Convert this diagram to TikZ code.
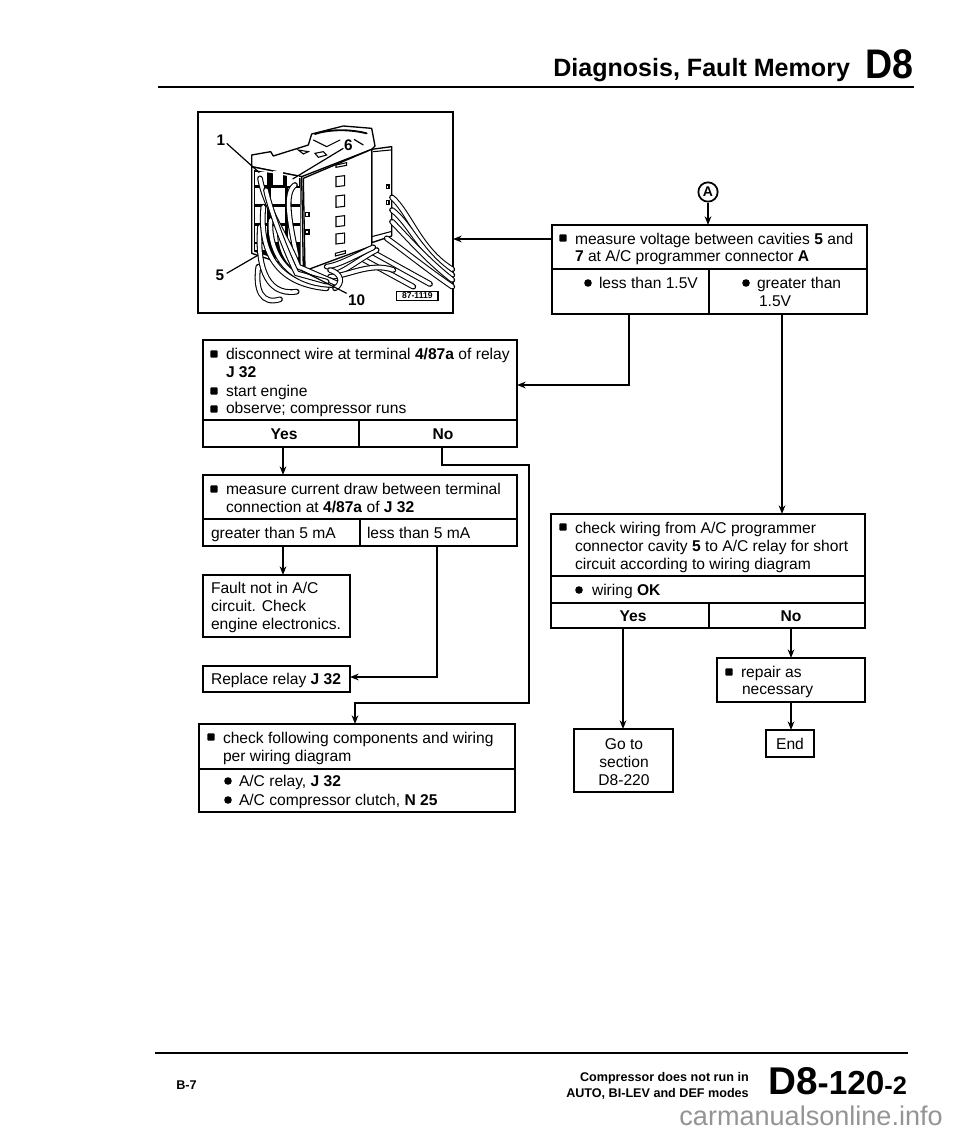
\documentclass[tikz,border=0pt]{standalone}
\usepackage{fontspec}
\setmainfont{Liberation Sans}
\usetikzlibrary{arrows.meta,calc}
\newfontfamily\wmfont{Liberation Sans}
\newcommand{\bodysize}{\fontsize{11.7pt}{14pt}\selectfont}
\tikzset{
  cellbox/.style={draw=black,line width=1.4pt,fill=white,inner sep=0pt,outer sep=0pt},
  txt/.style={anchor=base west,inner sep=0pt,outer sep=0pt,font=\bodysize,text=black},
  ctxt/.style={anchor=base,inner sep=0pt,outer sep=0pt,font=\bodysize,text=black},
  conn/.style={line width=1.3pt,draw=black},
  arr/.style={conn,-{Stealth[length=6.5pt,width=5pt]}},
  rule/.style={line width=2.2pt,draw=black},
  wire/.style={draw=black,line width=.8pt,double=white,double distance=2.7pt,line cap=round},
  thinw/.style={draw=black,line width=.8pt,line cap=round},
  lead/.style={draw=black,line width=.9pt},
  face/.style={draw=black,line width=1pt,fill=white,line join=round},
  lab/.style={inner sep=0pt,outer sep=0pt,font=\bfseries\fontsize{11.5pt}{13pt}\selectfont}
}
\newcommand{\bx}[5]{%
  \pgfmathsetmacro{\bxw}{(#4-#2)*0.75}\pgfmathsetmacro{\bxh}{(#5-#3)*0.75}%
  \pgfmathsetmacro{\bxx}{(#2+#4)/2}\pgfmathsetmacro{\bxy}{(#3+#5)/2}%
  \node[cellbox,minimum width=\bxw pt,minimum height=\bxh pt] (#1) at (\bxx,\bxy) {};}
\newcommand{\tx}[4]{\node[txt] (#1) at (#2,#3) {#4};}
\newcommand{\cx}[4]{\node[ctxt] (#1) at (#2,#3) {#4};}
\newcommand{\sq}[2]{\fill[black,rounded corners=.6pt] (#1-3.6,#2-3.6) rectangle (#1+3.6,#2+3.6);}
\newcommand{\dt}[2]{\fill[black] (#1,#2) circle[radius=3.8];}
\begin{document}
\begin{tikzpicture}[x=0.75pt,y=-0.75pt]
\useasboundingbox (0,0) rectangle (960,1134);
\fill[white] (0,0) rectangle (960,1134);

% header
\node[anchor=base west,inner sep=0pt,font=\bfseries\fontsize{18.8pt}{20pt}\selectfont] (hdr) at (553,77) {Diagnosis, Fault Memory};
\node[anchor=base west,inner sep=0pt,font=\bfseries\fontsize{31pt}{34pt}\selectfont] (hd8) at (865,79) {\scalebox{.91}[1]{D8}};
\coordinate (hl) at (158,87);\coordinate (hr) at (914,87);
\draw[rule] (hl) -- (hr);

% illustration frame
\bx{pic}{198}{112}{453}{313}
\begin{scope}[shift={(180,110)},x=0.25pt,y=-0.25pt]
  % rear and top of connector
  \draw[face] (575,118) -- (635,110) -- (635,378) -- (575,398) -- cycle;
  \draw[face] (215,135) -- (272,125) -- (280,138) -- (385,105) -- (395,72) -- (490,48) -- (575,55) -- (585,108) -- (575,118) -- (365,200) -- (215,170) -- cycle;
  \draw[thinw,line width=1.4pt] (405,72) .. controls (440,60) and (500,55) .. (560,70);
  \draw[thinw] (400,90) -- (440,110) -- (480,90);
  \draw[thinw] (355,120) -- (385,125) -- (370,132) -- cycle;
  \draw[thinw] (405,130) -- (430,125) -- (440,135) -- (415,142) -- cycle;
  \draw[thinw] (580,125) -- (632,120);
  \draw[thinw] (575,380) -- (632,365);
  % side face
  \draw[face] (370,205) -- (575,118) -- (575,408) -- (375,482) -- cycle;
  \foreach \yy/\hh in {200/30,258/34,320/30,372/30} {
    \draw[thinw] (468,\yy) -- (494,\yy-3) -- (494,\yy+\hh-3) -- (468,\yy+\hh) -- cycle;}
  \draw[thinw] (468,165) -- (500,158) -- (500,166) -- (468,172) -- cycle;
  \draw[thinw] (466,430) -- (496,422) -- (496,430) -- (466,438) -- cycle;
  \draw[thinw] (376,308) rectangle (387,320);
  \draw[thinw] (376,360) rectangle (387,372);
  \draw[thinw] (620,225) rectangle (627,235);
  \draw[thinw] (620,272) rectangle (627,284);
  % front face with cavities
  \draw[face] (215,170) -- (365,200) -- (370,482) -- (215,430) -- cycle;
  \fill[black] (222,180) -- (362,205) -- (362,470) -- (222,425) -- cycle;
  \foreach \xa/\xb in {226/262,272/316,324/360} \foreach \ya/\yb in {234/282,290/340,348/396} {
    \fill[white] (\xa,\ya) rectangle (\xb,\yb);}
  \fill[white] (226,186) rectangle (262,224);
  \fill[white] (280,182) rectangle (310,226);
  \fill[white] (322,197) rectangle (358,228);
  \fill[white] (226,402) rectangle (262,420);
  % fan of wires on the right
  \draw[wire] (636,262) .. controls (690,310) and (720,420) .. (817,478);
  \draw[wire] (636,300) .. controls (690,340) and (720,430) .. (817,495);
  \draw[wire] (636,335) .. controls (680,380) and (740,450) .. (817,510);
  \draw[wire] (620,385) .. controls (670,420) and (730,470) .. (817,530);
  \draw[wire] (575,425) -- (750,522);
  \draw[wire] (535,440) -- (700,530);
  \draw[wire] (470,490) .. controls (500,480) and (550,440) .. (590,420);
  \draw[wire] (450,500) .. controls (500,500) and (570,455) .. (640,480);
  \draw[wire] (440,470) .. controls (480,465) and (540,430) .. (580,412);
  % wires in front
  \draw[wire] (235,470) .. controls (225,540) and (245,585) .. (300,568);
  \draw[wire] (240,350) .. controls (232,450) and (250,560) .. (350,545);
  \draw[wire] (250,290) .. controls (240,400) and (270,520) .. (440,535);
  \draw[wire] (272,330) .. controls (265,400) and (300,520) .. (455,525);
  \draw[wire] (300,370) .. controls (300,430) and (330,500) .. (450,510);
  \draw[wire] (345,225) .. controls (310,250) and (330,340) .. (350,440);
  \draw[wire] (240,205) .. controls (255,290) and (320,380) .. (355,470) -- (470,520);
  \draw[wire] (258,240) .. controls (270,300) and (320,430) .. (350,490) -- (440,515);
  \draw[wire] (450,480) .. controls (485,490) and (490,520) .. (465,535);
  % leaders
  \draw[lead] (140,100) -- (238,188);
  \draw[lead] (490,115) -- (338,207);
  \draw[lead] (140,490) -- (235,435);
  \draw[lead] (500,550) -- (362,480);
  \draw[lead] (522,88) -- (550,105);
  % labels
  \node[lab] (l1) at (123,90) {1};
  \node[lab] (l6) at (505,105) {6};
  \node[lab] (l5) at (120,497) {5};
  \node[lab] (l10) at (530,570) {10};
  \node[draw=black,line width=.9pt,fill=white,inner sep=0pt,minimum width=31pt,minimum height=7pt,font=\bfseries\fontsize{6.4pt}{7pt}\selectfont] (pn) at (712,558) {87-1119};
\end{scope}

% box 1
\bx{bOneTop}{203}{340}{517}{420}
\bx{bOneYes}{203}{420}{359}{447}
\bx{bOneNo}{359}{420}{517}{447}
\sq{214}{354}
\tx{a1}{226}{359}{disconnect wire at terminal \textbf{4/87a} of relay}
\tx{a2}{226}{377}{\textbf{J 32}}
\sq{214}{391}\tx{a3}{226}{396}{start engine}
\sq{214}{409}\tx{a4}{226}{413}{observe; compressor runs}
\cx{a5}{284}{439}{\textbf{Yes}}
\cx{a6}{443}{439}{\textbf{No}}

% box 2
\bx{bTwoTop}{203}{475}{517}{519}
\bx{bTwoGt}{203}{519}{360}{546}
\bx{bTwoLt}{360}{519}{517}{546}
\sq{214}{489}
\tx{b1}{226}{494}{measure current draw between terminal}
\tx{b2}{226}{512}{connection at \textbf{4/87a} of \textbf{J 32}}
\tx{b3}{211}{538}{greater than 5 mA}
\tx{b4}{367}{538}{less than 5 mA}

% fault box
\bx{bFault}{203}{575}{350}{637}
\tx{c1}{211}{593}{Fault not in A/C}
\tx{c2}{211}{611}{circuit. Check}
\tx{c3}{211}{629}{engine electronics.}

% replace box
\bx{bRep}{203}{666}{350}{692}
\tx{d1}{211}{684}{Replace relay \textbf{J 32}}

% bottom left box
\bx{bChk}{199}{724}{515}{769}
\bx{bChkList}{199}{769}{515}{812}
\sq{211}{737}
\tx{e1}{223}{743}{check following components and wiring}
\tx{e2}{223}{761}{per wiring diagram}
\dt{228}{781}\tx{e3}{239}{786}{A/C relay, \textbf{J 32}}
\dt{228}{800}\tx{e4}{239}{805}{A/C compressor clutch, \textbf{N 25}}

% top right
\node[draw=black,line width=1.3pt,circle,minimum size=14.5pt,inner sep=0pt,font=\bfseries\fontsize{10.5pt}{12pt}\selectfont] (circA) at (708,192) {A};
\bx{bMeas}{552}{225}{867}{269}
\bx{bLess}{552}{269}{709}{314}
\bx{bGrt}{709}{269}{867}{314}
\sq{563}{238}
\tx{f1}{575}{244}{measure voltage between cavities \textbf{5} and}
\tx{f2}{575}{262}{\textbf{7} at A/C programmer connector \textbf{A}}
\dt{588}{283}\tx{f3}{599}{288}{less than 1.5V}
\dt{746}{283}\tx{f4}{757}{288}{greater than}
\tx{f5}{759}{306}{1.5V}

% check box
\bx{bWir}{551}{514}{865}{576}
\bx{bOK}{551}{576}{865}{603}
\bx{bWYes}{551}{603}{709}{628}
\bx{bWNo}{709}{603}{865}{628}
\sq{563}{527}
\tx{g1}{575}{533}{check wiring from A/C programmer}
\tx{g2}{575}{551}{connector cavity \textbf{5} to A/C relay for short}
\tx{g3}{575}{569}{circuit according to wiring diagram}
\dt{579}{590}\tx{g4}{592}{595}{wiring \textbf{OK}}
\cx{g5}{633}{621}{\textbf{Yes}}
\cx{g6}{791}{621}{\textbf{No}}

% go to / repair / end
\bx{bGo}{574}{729}{673}{792}
\cx{h1}{624}{749}{Go to}
\cx{h2}{624}{767}{section}
\cx{h3}{624}{785}{D8-220}
\bx{bRepair}{717}{658}{865}{702}
\sq{729}{672}
\tx{i1}{741}{677}{repair as}
\tx{i2}{742}{694}{necessary}
\bx{bEnd}{766}{730}{814}{757}
\cx{j1}{790}{749}{End}

% connectors
\coordinate (cYes) at (283,447);
\coordinate (cNo) at (442,447);
\coordinate (cNoR) at (529,465);
\coordinate (cNoB) at (355,703);
\coordinate (cGt) at (283,546);
\coordinate (cLt) at (437,546);
\coordinate (cLtT) at (437,677);
\coordinate (cM) at (629,314);
\coordinate (cMB) at (629,385);
\coordinate (cG) at (782,314);
\coordinate (cWY) at (623,628);
\coordinate (cWN) at (791,628);
\draw[arr] (cYes) -- (cYes |- bTwoTop.north);
\draw[arr] (cNo) -- (cNo |- cNoR) -- (cNoR) -- (cNoR |- cNoB) -- (cNoB) -- (cNoB |- bChk.north);
\draw[arr] (cGt) -- (cGt |- bFault.north);
\draw[arr] (cLt) -- (cLtT) -- (cLtT -| bRep.east);
\draw[arr] (circA.south) -- (circA.south |- bMeas.north);
\draw[arr] (bMeas.west |- 0,239) -- (pic.east |- 0,239);
\draw[arr] (cM) -- (cMB) -- (cMB -| bOneTop.east);
\draw[arr] (cG) -- (cG |- bWir.north);
\draw[arr] (cWY) -- (cWY |- bGo.north);
\draw[arr] (cWN) -- (cWN |- bRepair.north);
\draw[arr] (bRepair.south -| cWN) -- (cWN |- bEnd.north);

% footer
\coordinate (fl) at (155,1053);\coordinate (fr) at (908,1053);
\draw[rule] (fl) -- (fr);
\node[anchor=base west,inner sep=0pt,font=\bfseries\fontsize{9.5pt}{11pt}\selectfont] (p1) at (176,1089) {B-7};
\node[anchor=base east,inner sep=0pt,font=\bfseries\fontsize{9.45pt}{11pt}\selectfont] (p2) at (749,1081) {Compressor does not run in};
\node[anchor=base east,inner sep=0pt,font=\bfseries\fontsize{9.45pt}{11pt}\selectfont] (p3) at (749,1097) {AUTO, BI-LEV and DEF modes};
\node[anchor=base west,inner sep=0pt,font=\bfseries] (p4) at (768,1094) {{\fontsize{29pt}{30pt}\selectfont D8}{\fontsize{25pt}{27pt}\selectfont -120}{\fontsize{19pt}{21pt}\selectfont -2}};
\node[anchor=base east,inner sep=0pt,text=black!42,font=\wmfont\fontsize{20.3pt}{22pt}\selectfont] (wm) at (943,1125) {carmanualsonline.info};
\end{tikzpicture}
\end{document}
